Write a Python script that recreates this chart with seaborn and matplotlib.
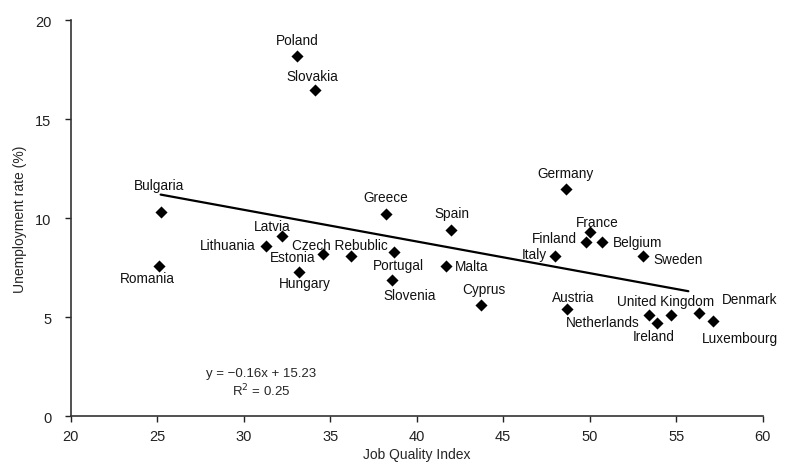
import pandas as pd
import numpy as np
import matplotlib
matplotlib.use("Agg")
import matplotlib.pyplot as plt
import seaborn as sns

# ----------------------
# Data
# ----------------------
countries = ["Poland", "Slovakia", "Bulgaria", "Romania", "Latvia", "Lithuania",
             "Estonia", "Czech Rebublic", "Portugal", "Slovenia", "Hungary", "Greece",
             "Spain", "Malta", "Cyprus", "Germany", "France", "Finland", "Belgium",
             "Italy", "Sweden", "Austria", "Netherlands", "Ireland", "United Kingdom",
             "Denmark", "Luxembourg"]
job_quality = [33.1, 34.1, 25.2, 25.1, 32.2, 31.3,
               34.6, 36.2, 38.7, 38.6, 33.2, 38.2,
               42.0, 41.7, 43.7, 48.6, 50.0, 49.8, 50.7,
               48.0, 53.1, 48.7, 53.4, 53.9, 54.7,
               56.3, 57.1]
unemployment = [18.2, 16.5, 10.3, 7.6, 9.1, 8.6,
                8.2, 8.1, 8.3, 6.9, 7.3, 10.2,
                9.4, 7.6, 5.6, 11.5, 9.3, 8.8, 8.8,
                8.1, 8.1, 5.4, 5.1, 4.7, 5.1,
                5.2, 4.8]

slope = -0.16
intercept = 15.23
r_squared = 0.25
trend_x = [25.2, 55.7]

# label offsets from each point in pixels (dx, dy)
label_offsets = {
    "Poland": (0, 16), "Slovakia": (-2, 14), "Bulgaria": (-2, 27), "Romania": (-12, -12),
    "Latvia": (-10, 10), "Lithuania": (-38, 1), "Estonia": (-31, -3),
    "Czech Rebublic": (-11, 11), "Portugal": (4, -13), "Slovenia": (17, -15),
    "Hungary": (6, -11), "Greece": (0, 17), "Spain": (1, 17), "Malta": (26, 0),
    "Cyprus": (3, 16), "Germany": (0, 16), "France": (8, 10), "Finland": (-32, 4),
    "Belgium": (36, 0), "Italy": (-21, 2), "Sweden": (35, -3), "Austria": (6, 12),
    "Netherlands": (-46, -7), "Ireland": (-4, -13), "United Kingdom": (-5, 14),
    "Denmark": (51, 14), "Luxembourg": (27, -17),
}

df = pd.DataFrame({"country": countries, "jqi": job_quality, "unemp": unemployment})

# ----------------------
# Plot
# ----------------------
sns.set_style("ticks")
plt.rcParams["font.family"] = ["Liberation Sans", "DejaVu Sans"]

fig = plt.figure(figsize=(7.87, 4.64), dpi=100)
ax = fig.add_axes([0.0898, 0.1006, 0.8794, 0.8535])

sns.scatterplot(data=df, x="jqi", y="unemp", marker="D", color="black",
                s=38, edgecolor="black", linewidth=0, ax=ax, zorder=3)

tx = np.array(trend_x)
ax.plot(tx, slope * tx + intercept, color="black", linewidth=1.6, zorder=2)

for name, x, y in zip(countries, job_quality, unemployment):
    dx, dy = label_offsets[name]
    ax.annotate(name, (x, y), xytext=(dx, dy), textcoords="offset pixels",
                ha="center", va="center", fontsize=9.8, color="#111111")

ax.text(31.0, 2.2, f"y = {slope:.2f}x + {intercept:.2f}".replace("-", "\u2212"),
        ha="center", va="center", fontsize=9.5)
ax.text(31.0, 1.35, f"R$^2$ = {r_squared:.2f}", ha="center", va="center", fontsize=9.5)

ax.set_xlim(20, 60)
ax.set_ylim(0, 20)
ax.set_xticks(range(20, 61, 5))
ax.set_yticks(range(0, 21, 5))
ax.set_xlabel("Job Quality Index", fontsize=10, labelpad=3)
ax.set_ylabel("Unemployment rate (%)", fontsize=10, labelpad=6)
ax.tick_params(axis="both", labelsize=10.5, length=4, width=1, direction="out", colors="#222222")
ax.tick_params(axis="x", pad=5)
ax.tick_params(axis="y", pad=10)
sns.despine(ax=ax)
for sp in ["left", "bottom"]:
    ax.spines[sp].set_linewidth(1.2)
    ax.spines[sp].set_color("#333333")

fig.savefig("out.png", dpi=100)
